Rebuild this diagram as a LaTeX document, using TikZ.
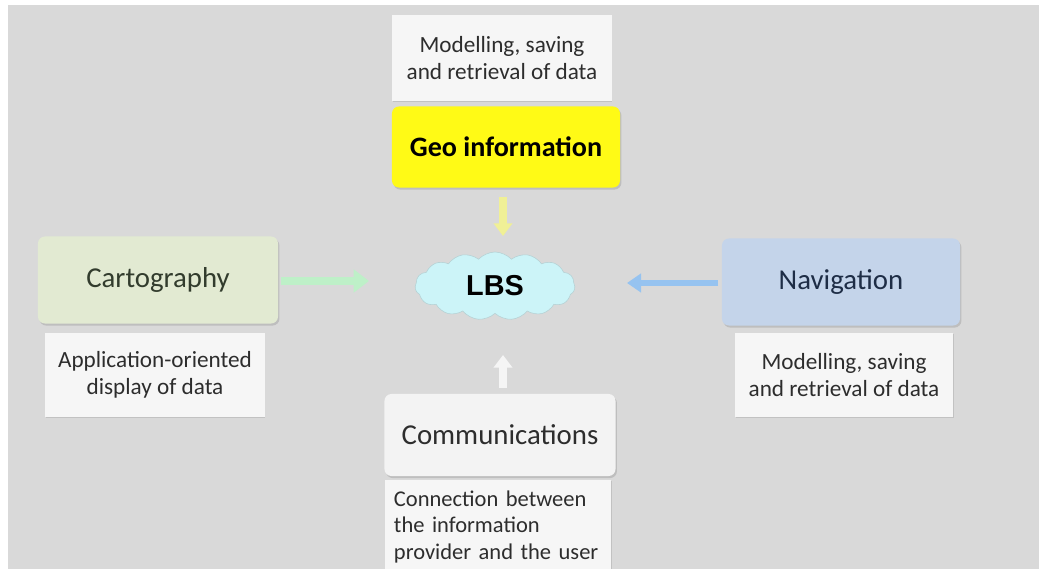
\documentclass[tikz,border=0pt]{standalone}
\usepackage{fontspec}
\setmainfont{Carlito}
\newfontfamily\lbsfont{Liberation Sans}
\usetikzlibrary{shapes.symbols,arrows.meta,shadows}
\definecolor{bggray}{RGB}{217,217,217}
\definecolor{notewhite}{RGB}{246,246,246}
\definecolor{geoyellow}{RGB}{255,250,22}
\definecolor{cartogreen}{RGB}{226,234,210}
\definecolor{navblue}{RGB}{196,212,234}
\definecolor{commwhite}{RGB}{243,243,243}
\definecolor{lbscyan}{RGB}{204,244,248}
\definecolor{txtdark}{RGB}{45,45,45}
\definecolor{arrgreen}{RGB}{190,240,200}
\definecolor{arrblue}{RGB}{150,195,240}
\definecolor{arryellow}{RGB}{240,240,150}
\tikzset{
  notebox/.style={fill=notewhite, draw=none, text=txtdark, align=center,
    font=\fontsize{16.5}{19.5}\selectfont, inner sep=2pt,
    drop shadow={shadow xshift=0.6pt, shadow yshift=-0.8pt, opacity=0.25}},
  mainbox/.style={rounded corners=5pt, draw=none, text=txtdark, align=center,
    font=\fontsize{20.5}{24}\selectfont,
    drop shadow={shadow xshift=1pt, shadow yshift=-1.5pt, opacity=0.3}},
  flow/.style={line width=6pt, -{Triangle[length=9pt,width=14pt]}},
}
\begin{document}
\begin{tikzpicture}[x=0.025cm,y=-0.025cm]
\useasboundingbox (0,0) rectangle (1039,569);
\clip (0,0) rectangle (1039,569);
% page background
\fill[white] (0,0) rectangle (1039,569);
\fill[bggray] (8,5) rectangle (1039,569);

% top: geo information with its note
\node[notebox, minimum width=5.475cm, minimum height=2.15cm] (geonote) at (502,58)
  {Modelling, saving\\and retrieval of data};
\node[mainbox, fill=geoyellow, minimum width=5.7cm, minimum height=2.025cm,
  font=\fontsize{20}{24}\selectfont\bfseries, text=black] (geo) at (506,147) {Geo information};

% centre cloud
\node[cloud, cloud puffs=15, cloud puff arc=95, aspect=2.4, fill=lbscyan, draw=lbscyan!70!gray,
  minimum width=4cm, minimum height=1.7cm, inner sep=0pt,
  font=\lbsfont\fontsize{20.5}{24}\selectfont\bfseries, text=black] (lbs) at (495,286) {LBS};

% left: cartography
\node[mainbox, fill=cartogreen, minimum width=6cm, minimum height=2.175cm, text={rgb,255:red,50;green,60;blue,45}] (carto) at (158,280) {Cartography};
\node[notebox, minimum width=5.475cm, minimum height=2.1cm] (cartonote) at (155,375)
  {Application-oriented\\display of data};

% right: navigation
\node[mainbox, fill=navblue, minimum width=5.95cm, minimum height=2.175cm, text={rgb,255:red,30;green,45;blue,70}] (nav) at (841,282) {Navigation};
\node[notebox, minimum width=5.45cm, minimum height=2.1cm] (navnote) at (844,375)
  {Modelling, saving\\and retrieval of data};

% bottom: communications
\node[mainbox, fill=commwhite, minimum width=5.775cm, minimum height=2.05cm] (comm) at (500,435) {Communications};
\node[notebox, minimum width=5.65cm, minimum height=2.35cm, align=left, text width=5.2cm,
  font=\fontsize{16}{18.5}\selectfont] (commnote) at (498,527)
  {Connection between\\the information\\provider and the user};

% arrows towards the cloud
\coordinate (geoA) at (503,197);
\coordinate (geoB) at (503,236);
\draw[flow, arryellow, line width=5pt, -{Triangle[length=9pt,width=13pt]}] (geoA) -- (geoB);
\coordinate (cartoA) at (281,281);
\coordinate (cartoB) at (369,281);
\draw[flow, arrgreen, -{Triangle[length=11pt,width=16pt]}] (cartoA) -- (cartoB);
\coordinate (navA) at (718,283);
\coordinate (navB) at (627,283);
\draw[flow, arrblue, line width=4pt, -{Triangle[length=10pt,width=13pt]}] (navA) -- (navB);
\coordinate (commA) at (503,388);
\coordinate (commB) at (503,355);
\draw[flow, white!92!gray, line width=5pt, -{Triangle[length=9pt,width=13pt]}] (commA) -- (commB);
\end{tikzpicture}
\end{document}
